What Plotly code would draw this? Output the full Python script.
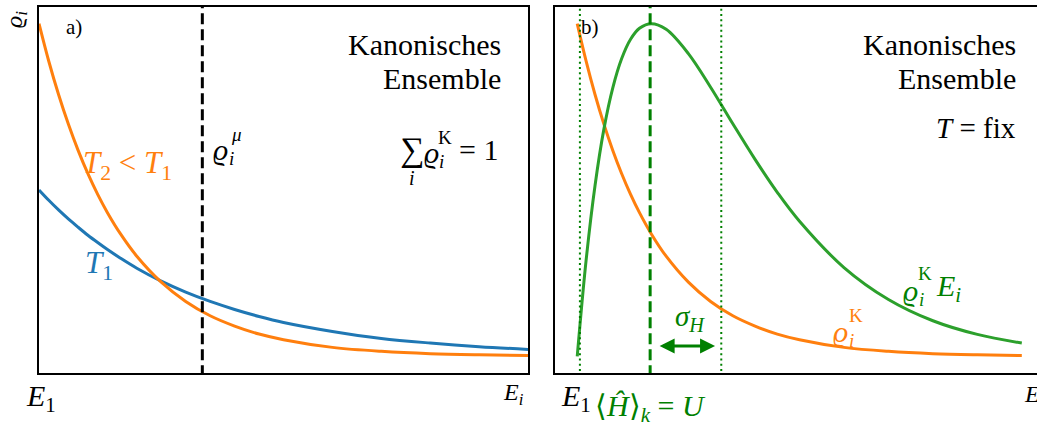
import plotly.graph_objects as go

W, H = 1037, 430

# ---------------- data ----------------
energy = [0, 0.02, 0.04, 0.06, 0.08, 0.1, 0.12, 0.14, 0.1667, 0.2, 0.25, 0.3,
          0.35, 0.4, 0.45, 0.5, 0.6, 0.7, 0.8, 0.9, 1.0]
rho_T2 = [1.0, 0.887, 0.787, 0.698, 0.619, 0.549, 0.487, 0.432, 0.368, 0.301,
          0.223, 0.165, 0.122, 0.091, 0.067, 0.050, 0.027, 0.015, 0.008, 0.0045, 0.0025]
rho_T1 = [0.500, 0.469, 0.440, 0.413, 0.388, 0.364, 0.342, 0.321, 0.295, 0.265,
          0.226, 0.193, 0.165, 0.141, 0.120, 0.102, 0.075, 0.054, 0.040, 0.029, 0.021]
rho_K = rho_T2
rhoE_K = [0.0, 0.289, 0.513, 0.683, 0.807, 0.895, 0.953, 0.986, 1.000, 0.983,
          0.910, 0.809, 0.699, 0.592, 0.493, 0.406, 0.267, 0.171, 0.107, 0.066, 0.040]
mu_pos = 0.334          # position of rho_i^mu marker (panel a)
mean_H = 0.164          # <H>_k  (panel b)
sigma_lo = 0.006        # <H> - sigma
sigma_hi = 0.324        # <H> + sigma
arrow_from, arrow_to, arrow_y = 0.182, 0.310, 0.031

ORANGE = "#ff7f0e"
BLUE = "#1f77b4"
GREEN = "#2ca02c"
DGREEN = "#008000"
FONT = "Liberation Serif"

fig = go.Figure()

# panel a
fig.add_trace(go.Scatter(x=energy, y=rho_T1, mode="lines", line=dict(color=BLUE, width=3, shape="spline"),
                         xaxis="x", yaxis="y", hoverinfo="skip"))
fig.add_trace(go.Scatter(x=energy, y=rho_T2, mode="lines", line=dict(color=ORANGE, width=3, shape="spline"),
                         xaxis="x", yaxis="y", hoverinfo="skip"))
fig.add_trace(go.Scatter(x=[mu_pos, mu_pos], y=[-0.06, 1.06], mode="lines",
                         line=dict(color="black", width=3, dash="11px,5px"),
                         xaxis="x", yaxis="y", hoverinfo="skip"))

# panel b
fig.add_trace(go.Scatter(x=energy, y=rho_K, mode="lines", line=dict(color=ORANGE, width=3, shape="spline"),
                         xaxis="x2", yaxis="y2", hoverinfo="skip"))
fig.add_trace(go.Scatter(x=energy, y=rhoE_K, mode="lines", line=dict(color=GREEN, width=3, shape="spline"),
                         xaxis="x2", yaxis="y2", hoverinfo="skip"))
fig.add_trace(go.Scatter(x=[mean_H, mean_H], y=[-0.06, 1.06], mode="lines",
                         line=dict(color=DGREEN, width=3, dash="11px,5px"),
                         xaxis="x2", yaxis="y2", hoverinfo="skip"))
for v in (sigma_lo, sigma_hi):
    fig.add_trace(go.Scatter(x=[v, v], y=[-0.06, 1.06], mode="lines",
                             line=dict(color=DGREEN, width=2, dash="2px,3.3px"),
                             xaxis="x2", yaxis="y2", hoverinfo="skip"))

ann = []


def txt(px, py, text, size, color="black", xanchor="center", yanchor="middle", angle=0):
    ann.append(dict(x=px / W, y=1 - py / H, xref="paper", yref="paper", text=text,
                    showarrow=False, xanchor=xanchor, yanchor=yanchor, textangle=angle,
                    font=dict(family=FONT, size=size, color=color)))


# panel a texts
txt(16, 20, "<i>ϱ<sub>i</sub></i>", 24, angle=-90)
txt(74, 27, "a)", 21)
txt(503, 45, "Kanonisches", 30, xanchor="right")
txt(503, 78, "Ensemble", 30, xanchor="right")
txt(220, 149, "<i>ϱ</i>", 30)
txt(231, 159, "<i>i</i>", 19)
txt(236, 134, "<i>μ</i>", 19)
txt(412, 150, "∑", 34)
txt(412, 178, "<i>i</i>", 20)
txt(431, 152, "<i>ϱ</i>", 30)
txt(441, 161, "<i>i</i>", 19)
txt(445, 137, "K", 19)
txt(457, 149, "= 1", 30, xanchor="left")
txt(127, 165, "<i>T</i><sub>2</sub> &lt; <i>T</i><sub>1</sub>", 31, color=ORANGE)
txt(99, 265, "<i>T</i><sub>1</sub>", 31, color=BLUE)
txt(41, 398, "<i>E</i><sub>1</sub>", 30)
txt(513, 394, "<i>E<sub>i</sub></i>", 24)

# panel b texts
txt(590, 27, "b)", 21)
txt(1018, 45, "Kanonisches", 30, xanchor="right")
txt(1018, 78, "Ensemble", 30, xanchor="right")
txt(1018, 128, "<i>T</i> = fix", 29, xanchor="right")
txt(690, 318, "<i>σ<sub>H</sub></i>", 29, color=DGREEN)
txt(910, 290, "<i>ϱ</i>", 30, color=DGREEN)
txt(921, 299, "<i>i</i>", 19, color=DGREEN)
txt(925, 273, "K", 19, color=DGREEN)
txt(948, 288, "<i>E<sub>i</sub></i>", 30, color=DGREEN)
txt(840, 331, "<i>ϱ</i>", 30, color=ORANGE)
txt(851, 340, "<i>i</i>", 19, color=ORANGE)
txt(856, 315, "K", 19, color=ORANGE)
txt(576, 398, "<i>E</i><sub>1</sub>", 30)
txt(650, 408, "⟨<i>Ĥ</i>⟩<sub><i>k</i></sub> = <i>U</i>", 30, color=DGREEN)
txt(1022, 394, "<i>E</i>", 24, xanchor="left")

ann.append(dict(x=arrow_to, y=arrow_y, ax=arrow_from, ay=arrow_y, xref="x2", yref="y2",
                axref="x2", ayref="y2", text="", showarrow=True, arrowhead=2, arrowside="end+start",
                arrowsize=1, arrowwidth=3, arrowcolor=DGREEN))

ax_common = dict(showgrid=False, zeroline=False, showticklabels=False, ticks="",
                 showline=True, linecolor="black", linewidth=1.6)
ydom = [57 / H, 423 / H]
fig.update_layout(
    width=W, height=H, margin=dict(l=0, r=0, t=0, b=0),
    paper_bgcolor="white", plot_bgcolor="white", showlegend=False,
    xaxis=dict(domain=[39 / W, 528 / W], range=[0, 1], mirror=True, anchor="y", **ax_common),
    yaxis=dict(domain=ydom, range=[-0.05, 1.05], mirror=True, anchor="x", **ax_common),
    xaxis2=dict(domain=[555 / W, 1.0], range=[-0.05, 1.0342], mirror=True, anchor="y2", **ax_common),
    yaxis2=dict(domain=ydom, range=[-0.05, 1.05], mirror=False, anchor="x2", **ax_common),
    annotations=ann,
)

fig.write_html("out.html", config={"displayModeBar": False},
               post_script="document.body.style.margin='0';document.body.style.overflow='hidden';")
